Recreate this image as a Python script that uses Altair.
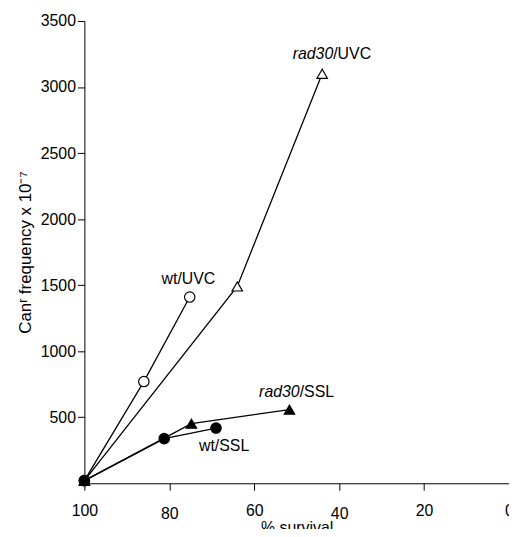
import altair as alt
import pandas as pd

# ---- data ----
wt_uvc_surv = [100, 86, 75.2]
wt_uvc_freq = [20, 770, 1410]
rad30_uvc_surv = [100, 64, 44]
rad30_uvc_freq = [20, 1490, 3100]
wt_ssl_surv = [100, 81.2, 69]
wt_ssl_freq = [20, 338, 418]
rad30_ssl_surv = [100, 74.8, 51.7]
rad30_ssl_freq = [20, 451, 558]

series_names = ["wt/UVC", "rad30/UVC", "wt/SSL", "rad30/SSL"]
series_shapes = ["circle", "triangle-up", "circle", "triangle-up"]
series_fills = ["white", "white", "black", "black"]

x_ticks = [100, 80, 60, 40, 20, 0]
y_ticks = [500, 1000, 1500, 2000, 2500, 3000, 3500]

# annotation labels: (italic part, regular part, x, y)
ann_split = [("rad30", "/UVC", 41.4, 3246), ("rad30", "/SSL", 49.3, 691)]
ann_plain = [("wt/UVC", 75.5, 1548), ("wt/SSL", 67.1, 285)]

rows = []
for name, s, f in zip(series_names,
                      [wt_uvc_surv, rad30_uvc_surv, wt_ssl_surv, rad30_ssl_surv],
                      [wt_uvc_freq, rad30_uvc_freq, wt_ssl_freq, rad30_ssl_freq]):
    for i, (a, b) in enumerate(zip(s, f)):
        rows.append({"series": name, "idx": i, "survival": a, "freq": b})
df = pd.DataFrame(rows)

FONT = "Liberation Sans"

x = alt.X("survival:Q",
          scale=alt.Scale(domain=[0, 100], reverse=True, nice=False),
          axis=alt.Axis(title="% survival", values=x_ticks, grid=False, format="d",
                        labelFlush=False,
                        tickSize=7,
                        labelPadding={"condition": {"test": "datum.value == 80 || datum.value == 40",
                                                    "value": 15},
                                      "value": 12},
                        titleY=37, titleBaseline="top",
                        labelFontSize=16, titleFontSize=16,
                        labelFont=FONT, titleFont=FONT,
                        labelColor="black", titleColor="black",
                        domainColor="black", tickColor="black",
                        titleFontWeight="normal"))
y = alt.Y("freq:Q",
          scale=alt.Scale(domain=[0, 3500], nice=False),
          axis=alt.Axis(title="Canʳ frequency x 10⁻⁷", values=y_ticks, grid=False, format="d",
                        labelFlush=False,
                        tickSize=7, labelPadding=2, titlePadding=6,
                        labelFontSize=16, titleFontSize=17,
                        labelFont=FONT, titleFont=FONT,
                        labelColor="black", titleColor="black",
                        domainColor="black", tickColor="black",
                        titleFontWeight="normal"))

lines = alt.Chart(df).mark_line(color="black", strokeWidth=1.3).encode(
    x=x, y=y, detail="series:N", order="idx:Q")

points = alt.Chart(df).mark_point(size=110, stroke="black", strokeWidth=1.2,
                                  opacity=1, filled=False).encode(
    x="survival:Q", y="freq:Q",
    shape=alt.Shape("series:N", scale=alt.Scale(domain=series_names, range=series_shapes), legend=None),
    fill=alt.Fill("series:N", scale=alt.Scale(domain=series_names, range=series_fills), legend=None),
)

df_split = pd.DataFrame([{"ital": a, "reg": b, "x": c, "y": d} for a, b, c, d in ann_split])
df_plain = pd.DataFrame([{"t": a, "x": b, "y": c} for a, b, c in ann_plain])

t_ital = alt.Chart(df_split).mark_text(font=FONT, fontSize=16, fontStyle="italic",
                                       align="right", baseline="middle", color="black").encode(
    x="x:Q", y="y:Q", text="ital:N")
t_reg = alt.Chart(df_split).mark_text(font=FONT, fontSize=16, align="left",
                                      baseline="middle", color="black").encode(
    x="x:Q", y="y:Q", text="reg:N")
t_plain = alt.Chart(df_plain).mark_text(font=FONT, fontSize=16, align="center",
                                        baseline="middle", color="black").encode(
    x="x:Q", y="y:Q", text="t:N")

chart = alt.layer(lines, points, t_ital, t_reg, t_plain).properties(
    width=428, height=466,
    autosize=alt.AutoSizeParams(type="none"),
    padding={"left": 77, "top": 11, "right": 0, "bottom": 44},
    background="white",
).configure_view(stroke=None)

chart.save("out.html", embed_options={"renderer": "svg", "actions": False})
